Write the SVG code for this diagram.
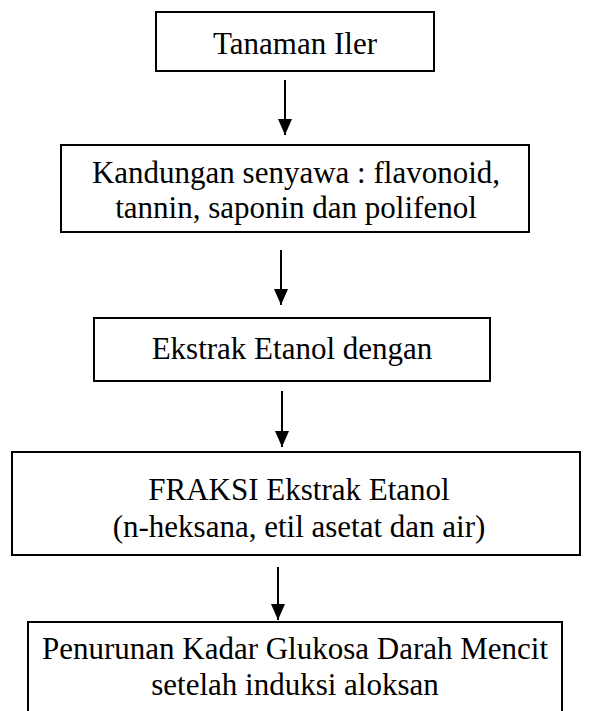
<svg xmlns="http://www.w3.org/2000/svg" width="594" height="711" viewBox="0 0 594 711">
<defs>
<marker id="ah" markerWidth="16" markerHeight="14" refX="16" refY="7" orient="auto" markerUnits="userSpaceOnUse" viewBox="0 0 16 14">
<path d="M0,0 L16,7 L0,14 Z" fill="#000"/>
</marker>
</defs>
<style>
.box{fill:#fff;stroke:#000;stroke-width:2}
.t{font-family:"Liberation Serif","Times New Roman",serif;font-size:31px;fill:#000;text-anchor:middle}
.c{stroke:#000;stroke-width:2;fill:none}
</style>
<rect width="594" height="711" fill="#fff"/>
<g id="n1"><rect class="box" x="156" y="12" width="278" height="59"/><text class="t" x="295" y="54">Tanaman Iler</text></g>
<g id="n2"><rect class="box" x="61" y="145" width="468" height="87"/><text class="t" x="296" y="183">Kandungan senyawa : flavonoid,</text><text class="t" x="296" y="218">tannin, saponin dan polifenol</text></g>
<g id="n3"><rect class="box" x="94" y="318" width="396" height="63"/><text class="t" x="292" y="359">Ekstrak Etanol dengan</text></g>
<g id="n4"><rect class="box" x="12" y="452" width="568" height="103"/><text class="t" x="299" y="500">FRAKSI Ekstrak Etanol</text><text class="t" x="299" y="537">(n-heksana, etil asetat dan air)</text></g>
<g id="n5"><rect class="box" x="28" y="622" width="534" height="100"/><text class="t" x="295" y="659">Penurunan Kadar Glukosa Darah Mencit</text><text class="t" x="295" y="695">setelah induksi aloksan</text></g>
<g id="connectors">
<line class="c" x1="285" y1="80" x2="285" y2="135" marker-end="url(#ah)"/>
<line class="c" x1="281" y1="250" x2="281" y2="305" marker-end="url(#ah)"/>
<line class="c" x1="282" y1="391" x2="282" y2="447" marker-end="url(#ah)"/>
<line class="c" x1="278" y1="567" x2="278" y2="620" marker-end="url(#ah)"/>
</g>
</svg>
